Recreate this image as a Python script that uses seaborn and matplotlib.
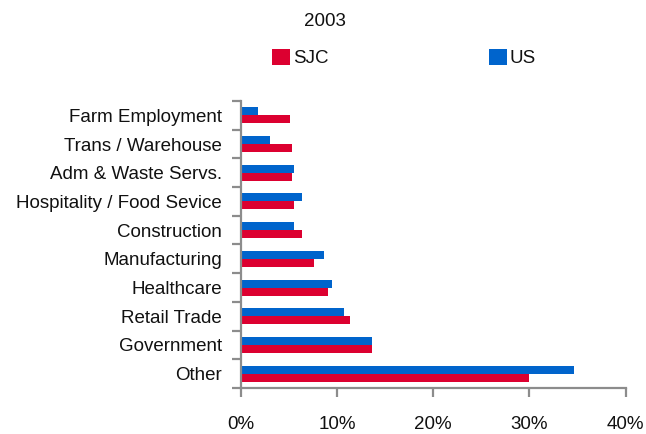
import matplotlib
matplotlib.use("Agg")
import matplotlib.pyplot as plt
from matplotlib.patches import Patch
from matplotlib.ticker import FuncFormatter, FixedLocator
import numpy as np
import pandas as pd
import seaborn as sns

# Employment share by industry, 2003 (percent of total employment)
industries = [
    "Farm Employment",
    "Trans / Warehouse",
    "Adm & Waste Servs.",
    "Hospitality / Food Sevice",
    "Construction",
    "Manufacturing",
    "Healthcare",
    "Retail Trade",
    "Government",
    "Other",
]
sjc_share = [5.1, 5.3, 5.3, 5.5, 6.4, 7.6, 9.1, 11.4, 13.6, 30.0]
us_share = [1.8, 3.0, 5.5, 6.4, 5.5, 8.7, 9.5, 10.7, 13.6, 34.6]
regions = ["SJC", "US"]
year_label = "2003"
x_ticks = [0, 10, 20, 30, 40]

colors = {"SJC": "#DC0030", "US": "#0064CC"}

df = pd.DataFrame({
    "industry": industries * 2,
    "share": sjc_share + us_share,
    "region": ["SJC"] * len(industries) + ["US"] * len(industries),
})

sns.set_theme(style="white")
plt.rcParams["font.family"] = ["Liberation Sans", "DejaVu Sans"]
fs = 13.5
text_color = "#111111"

fig = plt.figure(figsize=(6.46, 4.34), dpi=100)
ax = fig.add_axes([240.7 / 646, 1 - 388 / 434, 385 / 646, 287 / 434])

sns.barplot(
    data=df, x="share", y="industry", hue="region",
    order=industries, hue_order=["US", "SJC"], palette=colors,
    orient="h", width=0.56, saturation=1, ax=ax, legend=False,
    errorbar=None, linewidth=0, edgecolor="none",
)

ax.set_xlim(0, 40)
ax.set_ylim(len(industries) - 0.5, -0.5)
ax.set_xlabel("")
ax.set_ylabel("")

grey = "#8C8C8C"
for side in ["top", "right"]:
    ax.spines[side].set_visible(False)
for side in ["left", "bottom"]:
    ax.spines[side].set_color(grey)
    ax.spines[side].set_linewidth(1.6)

ax.xaxis.set_major_locator(FixedLocator(x_ticks))
ax.xaxis.set_major_formatter(FuncFormatter(lambda v, _: f"{v:.0f}%"))
ax.tick_params(axis="x", which="major", direction="out", length=6.5, width=1.6,
               color=grey, labelsize=fs, pad=14, labelcolor=text_color, bottom=True)

ax.set_yticks(range(len(industries)))
ax.set_yticklabels(industries)
ax.yaxis.set_minor_locator(FixedLocator(np.arange(-0.5, len(industries), 1.0)))
ax.tick_params(axis="y", which="major", length=0, labelsize=fs, pad=13.5,
               labelcolor=text_color, left=True)
ax.tick_params(axis="y", which="minor", direction="out", length=6.5, width=1.6,
               color=grey, left=True)

fig.text(325 / 646, 1 - 22 / 434, year_label, ha="center", va="center",
         fontsize=fs, color=text_color)

handles = [Patch(facecolor=colors[r], edgecolor="none", label=r) for r in regions]
fontpx = fs * 100 / 72
fig.legend(
    handles=handles, ncol=2, loc="center left",
    bbox_to_anchor=(263 / 646, 1 - 58 / 434), frameon=False,
    fontsize=fs, handlelength=18 / fontpx, handleheight=18 / fontpx,
    handletextpad=3 / fontpx, columnspacing=160 / fontpx, borderpad=0,
    labelcolor=text_color,
)

fig.savefig("out.png", dpi=100)
